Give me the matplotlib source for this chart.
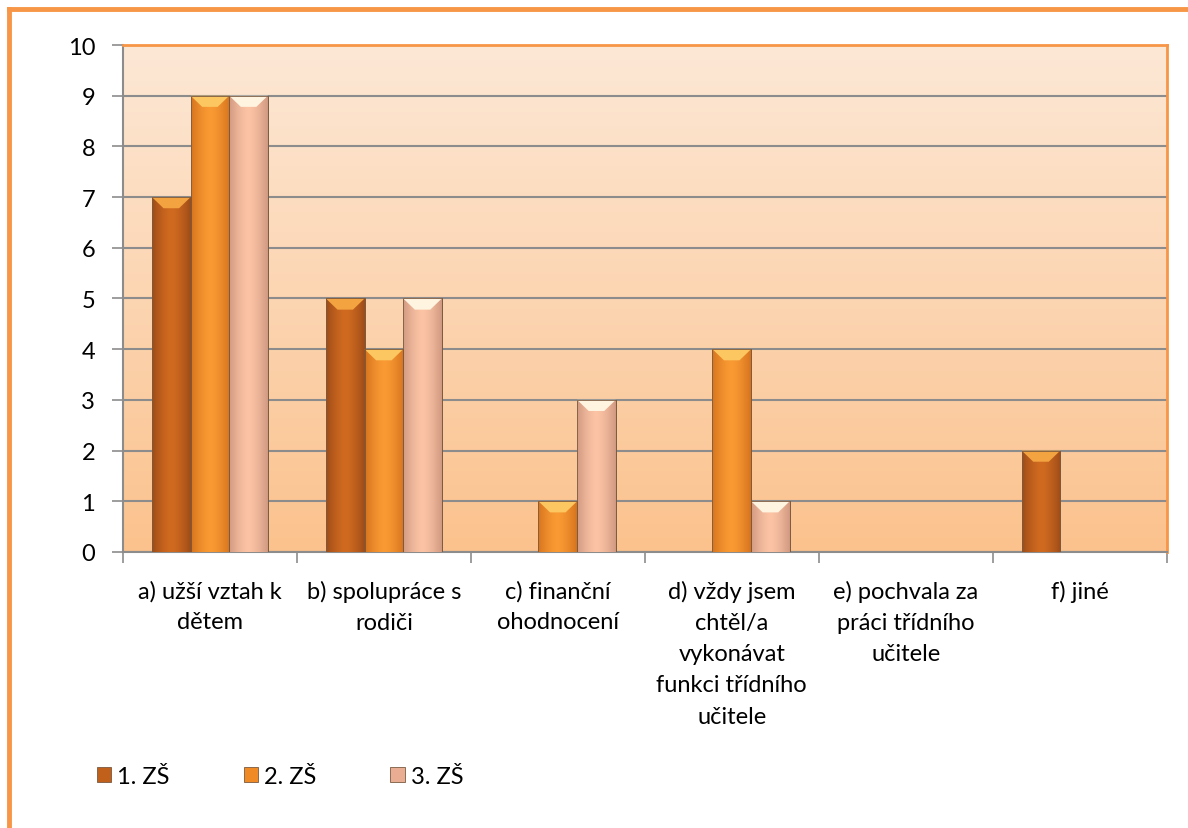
import numpy as np
import matplotlib.pyplot as plt
from matplotlib.lines import Line2D
from matplotlib.patches import Patch, Polygon
from matplotlib.colors import LinearSegmentedColormap

plt.rcParams['font.family'] = ['Lato', 'DejaVu Sans']

categories = ["a) užší vztah k\ndětem",
              "b) spolupráce s\nrodiči",
              "c) finanční\nohodnocení",
              "d) vždy jsem\nchtěl/a\nvykonávat\nfunkci třídního\nučitele",
              "e) pochvala za\npráci třídního\nučitele",
              "f) jiné"]
series = ["1. ZŠ", "2. ZŠ", "3. ZŠ"]
zs1 = [7, 5, 0, 0, 0, 2]
zs2 = [9, 4, 1, 4, 0, 0]
zs3 = [9, 5, 3, 1, 0, 0]

# (edge, centre) shades for each series, used for the horizontal bevel gradient
shades = [("#9e4c18", "#d06a20"),
          ("#d6741e", "#f99a33"),
          ("#d09a82", "#fcc3a4")]
tops = ["#f3a441", "#fcc760", "#fff4e0"]
legend_cols = ["#c0601b", "#f08a25", "#e8ad92"]

fig = plt.figure(figsize=(11.88, 8.29), dpi=100)
ax = fig.add_axes([0.1035, 0.333, 0.8785, 0.6115])

n = len(categories)
x = np.arange(n)
w = 1 / 4.5

ax.set_xlim(-0.5, n - 0.5)
ax.set_ylim(0, 10)

# plot area background: light peach at the top to deeper peach at the bottom
bg = LinearSegmentedColormap.from_list("bg", ["#fbc28d", "#fde8d6"])
ax.imshow(np.linspace(0, 1, 256).reshape(-1, 1), cmap=bg, origin="lower",
          extent=[-0.5, n - 0.5, 0, 10], aspect="auto", zorder=0)

ax.yaxis.grid(True, color="#8c8c8c", linewidth=1.5, zorder=1)
ax.set_axisbelow(True)

grad = np.abs(np.linspace(-1, 1, 64)) ** 1.5
grad = grad.reshape(1, -1)
for i, vals in enumerate([zs1, zs2, zs3]):
    bars = ax.bar(x + (i - 1) * w, vals, w, color=shades[i][1],
                  edgecolor="#7a5a40", linewidth=0.6, zorder=3)
    cmap = LinearSegmentedColormap.from_list("s%d" % i, [shades[i][1], shades[i][0]])
    for b in bars:
        h = b.get_height()
        if h <= 0:
            continue
        x0 = b.get_x()
        x1 = x0 + b.get_width()
        im = ax.imshow(grad, cmap=cmap, extent=[x0, x1, 0, h],
                       aspect="auto", zorder=3.5)
        im.set_clip_path(b)
        bev = 0.22
        inset = b.get_width() * 0.3
        ax.add_patch(Polygon([[x0, h], [x1, h], [x1 - inset, h - bev], [x0 + inset, h - bev]],
                             closed=True, facecolor=tops[i], edgecolor="none", zorder=4))
        ax.add_patch(Polygon([[x0, 0], [x1, 0], [x1, h], [x0, h]], closed=True,
                             facecolor="none", edgecolor="#7a5a40", linewidth=0.6, zorder=4.5))

ax.set_yticks(range(0, 11))
ax.set_xticks(np.arange(-0.5, n, 1))
ax.set_xticklabels([])
ax.set_xticks(x, minor=True)
ax.set_xticklabels(categories, minor=True, fontsize=17, linespacing=1.6, va="top")
ax.tick_params(axis="x", which="minor", length=0, pad=20)
ax.tick_params(axis="x", which="major", length=8, width=1.2, color="#8c8c8c")
ax.tick_params(axis="y", length=8, width=1.2, color="#8c8c8c", labelsize=17, pad=12)

for side in ["left", "bottom"]:
    ax.spines[side].set_color("#8c8c8c")
    ax.spines[side].set_linewidth(1.5)
for side in ["top", "right"]:
    ax.spines[side].set_color("#f79646")
    ax.spines[side].set_linewidth(2)

# outer chart frame
fig.add_artist(Line2D([0.0075, 0.0075], [0, 0.988], color="#f79646", linewidth=3.5))
fig.add_artist(Line2D([0.0075, 1.0], [0.988, 0.988], color="#f79646", linewidth=3.5))

handles = [Patch(facecolor=legend_cols[i], edgecolor="#7a5a40", linewidth=0.6) for i in range(3)]
fig.legend(handles, series, loc="center left", bbox_to_anchor=(0.0635, 0.062), ncol=3,
           frameon=False, fontsize=17, handlelength=0.6, handleheight=0.6,
           handletextpad=0.25, columnspacing=3.15)

fig.savefig("out.png", dpi=100)
